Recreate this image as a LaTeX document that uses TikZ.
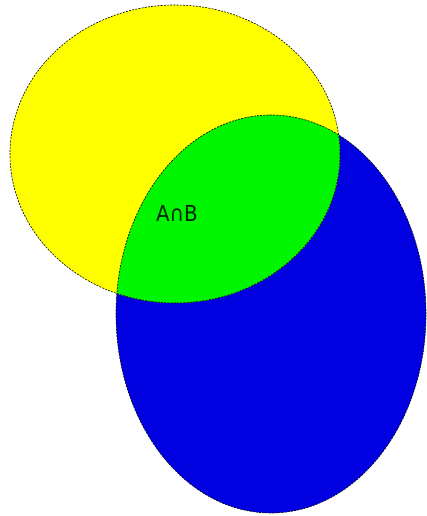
\documentclass[tikz,border=0pt]{standalone}
\usepackage{fontspec}
\setmainfont{DejaVu Sans}
\usepackage{xcolor}
\usepackage{tikz}
\definecolor{setblue}{RGB}{0,0,225}
\definecolor{setgreen}{RGB}{0,245,0}
\definecolor{setyellow}{RGB}{255,255,0}

\begin{document}
\begin{tikzpicture}[x=1pt, y=1pt,
        rim/.style={draw=black, dash pattern=on 2pt off 1.2pt, line width=0.6pt}]
    		\useasboundingbox (0,0) rectangle (427,516);
    		\coordinate (A) at (175,362);
    		\coordinate (B) at (271,202);
    		
    		\fill[setblue] (B) ellipse [x radius=155pt, y radius=199pt];
    		\fill[setyellow] (A) ellipse [x radius=165pt, y radius=149pt];
    		\begin{scope}
    			\clip (A) ellipse [x radius=165pt, y radius=149pt];
    			\fill[setgreen] (B) ellipse [x radius=155pt, y radius=199pt];
    		\end{scope}
    		\draw[rim] (A) ellipse [x radius=165pt, y radius=149pt];
    		\draw[rim] (B) ellipse [x radius=155pt, y radius=199pt];
    		
    		\node[font=\fontsize{22}{26}\selectfont, text=black!85!green, xscale=0.9] (AB) at (177,303) {A∩B};
    	\end{tikzpicture}
\end{document}
